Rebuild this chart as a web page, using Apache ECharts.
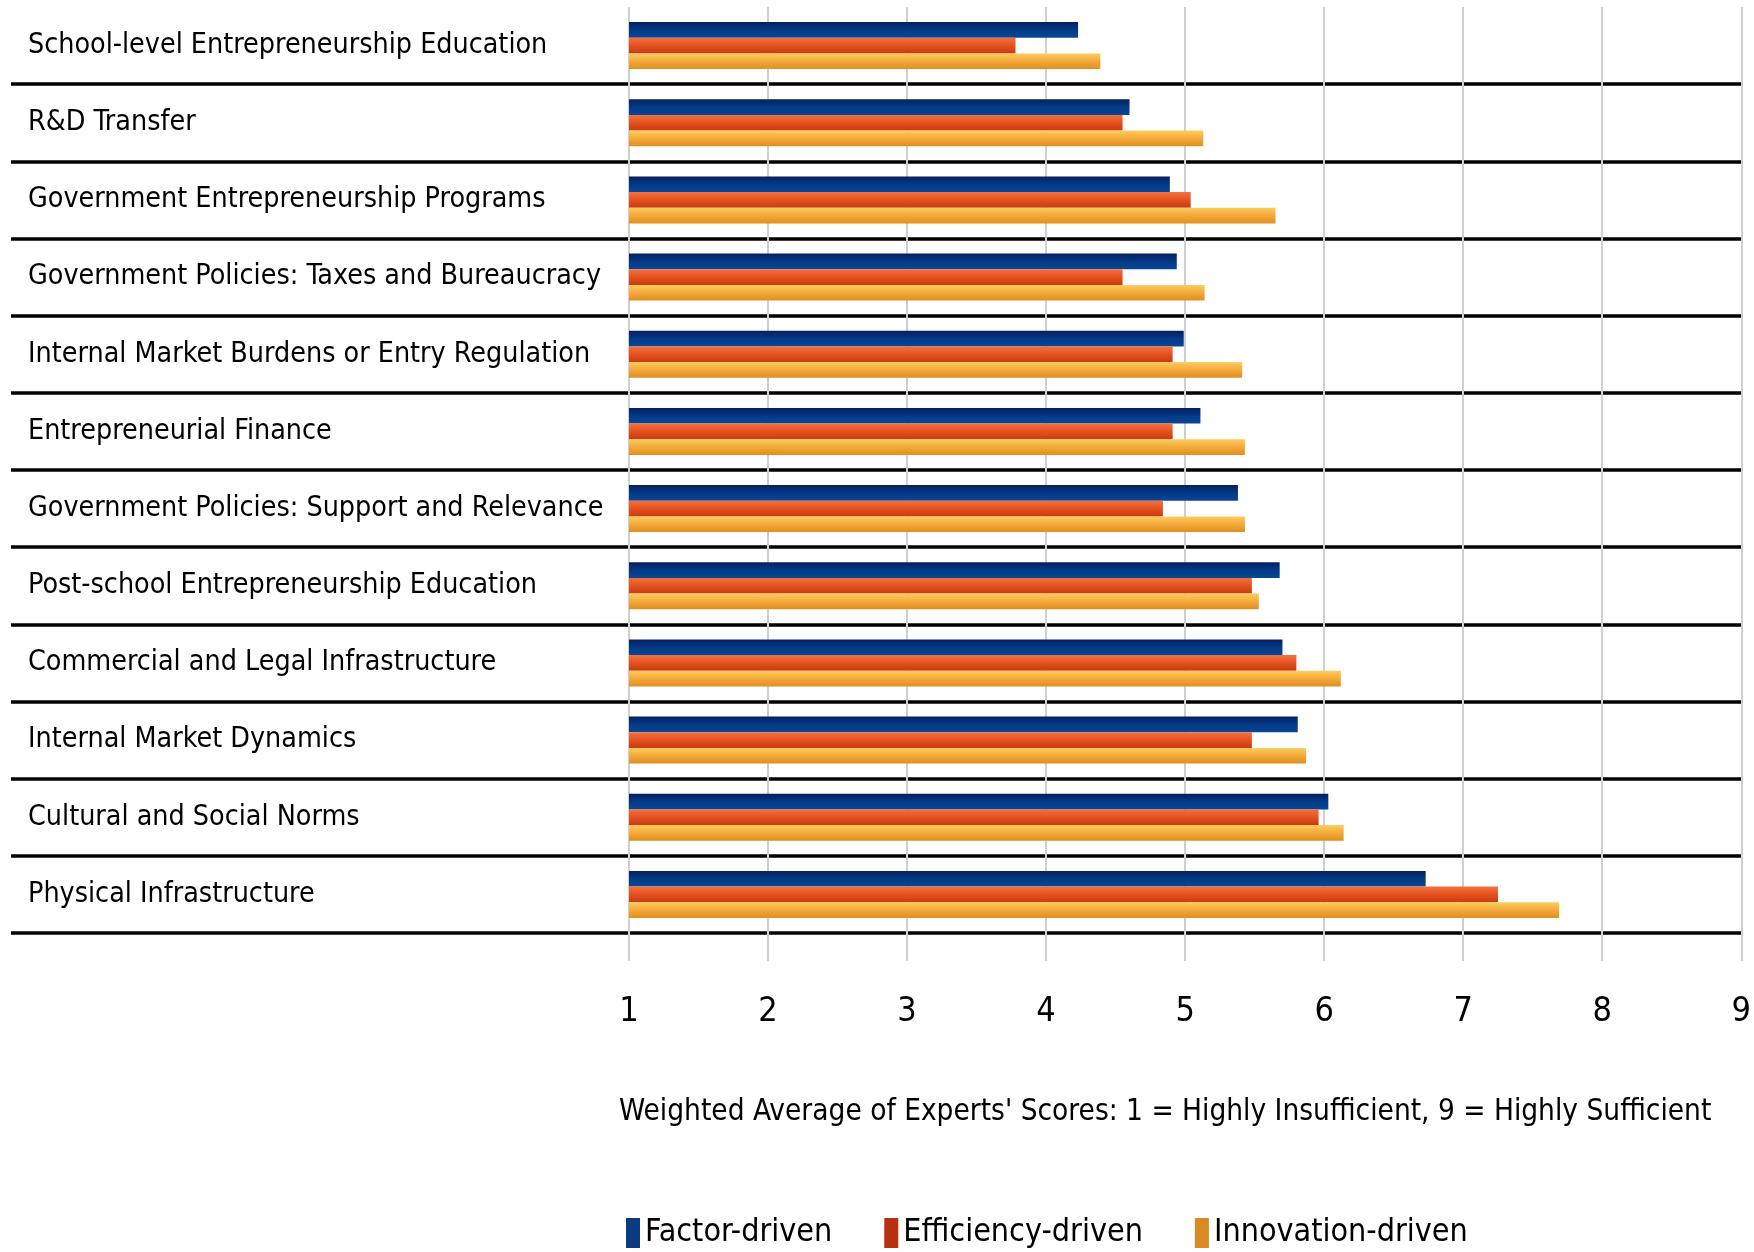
<!DOCTYPE html>
<html>
<head>
<meta charset="utf-8">
<script src="https://cdn.jsdelivr.net/npm/echarts@6/dist/echarts.min.js"></script>
<style>
html,body{margin:0;padding:0;background:#fff;}
#chart{width:1754px;height:1252px;}
</style>
</head>
<body>
<div id="chart"></div>
<script>
const categories = [
  "School-level Entrepreneurship Education",
  "R&D Transfer",
  "Government Entrepreneurship Programs",
  "Government Policies: Taxes and Bureaucracy",
  "Internal Market Burdens or Entry Regulation",
  "Entrepreneurial Finance",
  "Government Policies: Support and Relevance",
  "Post-school Entrepreneurship Education",
  "Commercial and Legal Infrastructure",
  "Internal Market Dynamics",
  "Cultural and Social Norms",
  "Physical Infrastructure"
];
const factorDriven     = [4.23, 4.60, 4.89, 4.94, 4.99, 5.11, 5.38, 5.68, 5.70, 5.81, 6.03, 6.73];
const efficiencyDriven = [3.78, 4.55, 5.04, 4.55, 4.91, 4.91, 4.84, 5.48, 5.80, 5.48, 5.96, 7.25];
const innovationDriven = [4.39, 5.13, 5.65, 5.14, 5.41, 5.43, 5.43, 5.53, 6.12, 5.87, 6.14, 7.69];
const seriesNames = ["Factor-driven", "Efficiency-driven", "Innovation-driven"];
const xTicks = [1, 2, 3, 4, 5, 6, 7, 8, 9];
const axisTitle = "Weighted Average of Experts' Scores: 1 = Highly Insufficient, 9 = Highly Sufficient";

const FONT = "'Liberation Sans Narrow', 'DejaVu Sans Condensed', 'Roboto Condensed', 'Liberation Sans', sans-serif";

function grad(stops) {
  return new echarts.graphic.LinearGradient(0, 0, 0, 1,
    stops.map((c, i) => ({ offset: i / (stops.length - 1), color: c })));
}
const colors = [
  grad(['#071f60', '#023a86', '#0a4694']),
  grad(['#f47040', '#e4521f', '#c93a10']),
  grad(['#fccd5e', '#f4a93a', '#de8f1f'])
];
const legendColors = ['#0b3a80', '#b8300f', '#d98a25'];

const chart = echarts.init(document.getElementById('chart'), null, { renderer: 'canvas' });

const rowLine = {
  show: true,
  interval: function (i) { return i > 0; },
  lineStyle: { color: '#000', width: 3.5 }
};

const option = {
  backgroundColor: '#fff',
  animation: false,
  textStyle: { fontFamily: FONT },
  title: {
    text: axisTitle,
    left: 614,
    top: 1092,
    textStyle: { fontFamily: FONT, fontSize: 29.5, fontWeight: 'normal', color: '#000' }
  },
  legend: {
    data: seriesNames.map((n, i) => ({ name: n, itemStyle: { color: legendColors[i] } })),
    left: 621,
    top: 1212,
    itemWidth: 14,
    itemHeight: 30,
    itemGap: 52,
    icon: 'rect',
    textStyle: { fontFamily: FONT, fontSize: 32, color: '#000' }
  },
  grid: [
    { left: 629, right: 12, top: 7, bottom: 319, containLabel: false },
    { left: 11, right: 1125, top: 7, bottom: 319, containLabel: false }
  ],
  xAxis: [
    {
      gridIndex: 0,
      type: 'value',
      min: 1, max: 9, interval: 1,
      axisLine: { show: false },
      axisTick: { show: true, length: 28, lineStyle: { color: '#cfcfcf', width: 2 } },
      splitLine: { show: true, lineStyle: { color: '#cfcfcf', width: 2 } },
      axisLabel: {
        margin: 62,
        fontFamily: FONT, fontSize: 34, color: '#000',
        formatter: function (v) { return xTicks.indexOf(v) >= 0 ? String(v) : ''; }
      }
    },
    { gridIndex: 1, type: 'value', show: false }
  ],
  yAxis: [
    {
      gridIndex: 0,
      type: 'category',
      data: categories,
      inverse: true,
      axisLine: { show: false },
      axisTick: { show: false },
      axisLabel: {
        align: 'left',
        margin: 601,
        padding: [9, 0, 0, 0],
        fontFamily: FONT, fontSize: 28.4, color: '#000'
      },
      splitLine: rowLine
    },
    {
      gridIndex: 1,
      type: 'category',
      data: categories,
      inverse: true,
      axisLine: { show: false },
      axisTick: { show: false },
      axisLabel: { show: false },
      splitLine: rowLine
    }
  ],
  series: [factorDriven, efficiencyDriven, innovationDriven].map((d, i) => ({
    name: seriesNames[i],
    type: 'bar',
    xAxisIndex: 0,
    yAxisIndex: 0,
    data: d,
    barGap: '0%',
    barCategoryGap: '39%',
    clip: true,
    itemStyle: { color: colors[i] }
  }))
};
chart.setOption(option);
</script>
</body>
</html>
